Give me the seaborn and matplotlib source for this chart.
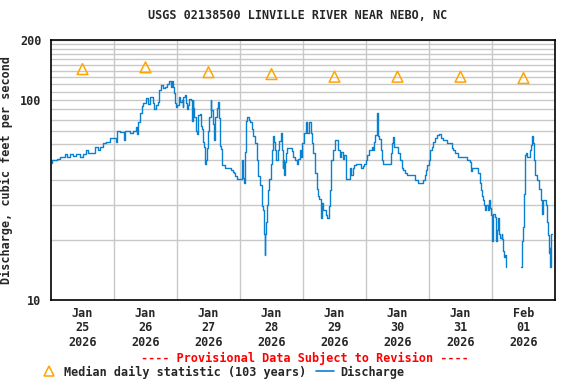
import seaborn as sns
import pandas as pd
import matplotlib.pyplot as plt
from matplotlib.lines import Line2D

# hours since 2026-01-25 00:00, discharge in cfs
hours_a = [0.25, 0.5, 2.3, 3.4, 5.3, 6.1, 7.2, 8.4, 9.5, 11, 12.2, 13.3, 14.1, 16, 16.8, 17.9,
           18.7, 19.8, 21, 22.5, 24.4, 24.6, 25.1, 26.3, 27.8, 28.2, 30.1, 31.2, 32.4, 32.8,
           33.1, 33.9, 34.7, 35, 36.2, 37, 37.7, 38.9, 39.2, 40, 40.8, 41.1, 41.9, 42.7, 43.4,
           44.2, 45, 45.7, 46.1, 46.5, 46.7, 47.2, 47.6, 48, 48.8, 49.1, 49.9, 50.1, 50.3, 51,
           51.4, 51.7, 52.2, 52.6, 53.3, 53.6, 54, 54.2, 54.6, 55.2, 55.6, 56.1, 56.8, 57,
           57.5, 57.8, 58.3, 58.7, 59, 59.3, 59.8, 60.3, 60.8, 61.1, 61.6, 62.1, 62.6, 63.1,
           63.6, 64, 64.4, 64.8, 65.1, 66.3, 68.2, 68.6, 69.2, 69.7, 70.2, 71, 72, 72.6, 73,
           73.5, 73.9, 74.4, 74.8, 75.5, 75.8, 76.5, 77.1, 77.7, 78.4, 79, 79.6, 80.3, 80.9,
           81.1, 81.4, 81.6, 81.9, 82.2, 82.6, 83, 83.7, 84.2, 84.7, 85.1, 85.3, 85.7, 86.2,
           86.6, 87, 87.5, 87.9, 88.3, 88.5, 88.9, 89.1, 89.5, 90, 91, 91.7, 92.3, 93, 93.6,
           94.2, 94.9, 95.2, 95.7, 96.5, 97.1, 97.6, 98.2, 98.7, 99, 99.5, 99.9, 100.6, 101.2,
           101.8, 102.2, 102.7, 103, 103.2, 103.7, 104.4, 104.8, 105.3, 105.8, 106.3, 106.8,
           107.5, 108.3, 109.1, 109.4, 110.1, 110.5, 111.1, 111.7, 112.4, 113.3, 113.9, 114.3,
           114.9, 115.4, 116.1, 117.5, 118, 118.7, 119.2, 120, 120.5, 121.3, 122.3, 122.8, 123,
           123.5, 124.1, 124.3, 124.7, 125.1, 125.6, 126.1, 126.6, 128.9, 129.4, 129.8, 130.2,
           130.7, 131.7, 132.3, 133, 133.6, 134.2, 134.9, 135.5, 138.3, 138.7, 139.9, 141.6,
           141.8, 142.5, 142.9, 143.4, 143.9, 144.4, 145, 145.6, 146.4, 147.2, 147.9, 148.5,
           149.5, 150.7, 152, 152.6, 153.3, 153.9, 155.2, 157.7, 158.4, 159.6, 160, 160.3,
           162.2, 162.6, 163.2, 163.4, 163.8, 164.2, 164.7, 165.1, 165.3, 165.7, 166.4, 166.9,
           167.2, 167.6, 168, 168.3, 168.5, 169.3, 169.5, 169.8, 170.2, 170.6, 170.8, 171.1,
           171.7, 171.9, 172.2, 172.6, 173, 173.2, 173.5]
flow_a = [48.5, 50, 51, 52, 54, 52, 54, 52.5, 54, 52, 54, 56, 54.5, 54.5, 58, 56,
          58, 61, 62, 65, 65, 62, 70, 69, 63, 70, 68.5, 70, 73.5, 68,
          78, 86, 93, 97, 103, 96, 104, 97, 90, 95, 98, 112, 119, 115, 117,
          120, 124, 117, 124, 117, 108, 97, 92, 95, 103.5, 98, 100, 92, 104, 106,
          97, 90, 95, 101, 100, 79, 100, 91, 82, 70, 68, 84, 85, 74,
          72, 62, 58, 48, 50, 57.5, 70, 82, 100, 89, 76, 63, 82, 91,
          98, 81, 59, 57, 47.5, 46, 46, 44.8, 43.5, 43, 41.5, 40.5, 40.5, 50, 41,
          38.6, 55, 79, 82, 80, 78, 72, 66, 61, 50, 41.5, 37.5, 29.6, 28.3,
          21.5, 16.8, 21.5, 24.5, 29.9, 35.5, 40.5, 48, 56, 66, 62, 56, 50, 50,
          56, 62.5, 68.5, 56, 46, 50, 42, 49, 54.5, 57.5, 57.5, 55.5, 52, 50, 48,
          51, 56, 52, 61, 68.5, 78, 68.5, 78, 78, 68.5, 61, 54.5, 43, 36,
          33, 32, 29.9, 25.6, 30.5, 28.3, 28.3, 26.6, 25.6, 29.4, 35.5, 50,
          56, 63, 63, 56, 52, 55, 51, 53, 40.5, 40.5, 46, 42,
          46, 47.5, 48, 48, 46, 47, 48, 50, 53, 56, 58.5, 56, 62,
          67, 75, 86, 66, 64, 56, 50, 48, 48, 54.5, 61, 65.5,
          58.5, 58, 54.5, 50, 46, 44.5, 43, 42, 42, 40, 38.6, 38.6,
          40, 42, 44.5, 47.5, 50, 56, 58.5, 62, 64.5, 67, 67.5, 65,
          63, 61, 61, 57.5, 56, 54.5, 52, 52, 50, 49, 44, 46,
          46, 43, 43, 38.6, 35.5, 33, 31.6, 29.9, 28.3, 29.9, 28.3, 31.6,
          29, 26.6, 19.7, 26, 27, 26, 19.7, 22.4, 25.6, 25.6, 21.5, 20.4,
          21.5, 20.3, 17.5, 16.5, 16.8, 15.9, 14.6]

# after the data gap
hours_b = [179, 179.4, 179.7, 180.2, 180.5, 180.7, 181, 181.5, 182.2, 182.6, 182.9, 183.1,
           183.4, 183.7, 184, 184.4, 185, 185.3, 185.8, 186, 186.6, 186.9, 187.3, 188.2,
           188.6, 189.1, 189.5, 189.7, 190, 190.2, 190.5, 190.8]
flow_b = [14.6, 19.7, 23.3, 34.1, 40.5, 53, 54.5, 52, 52, 56, 59.5, 61,
          66, 61, 50, 42, 42, 40, 37.5, 36, 31.6, 27, 31.6, 31.6,
          29.9, 24.6, 21.2, 17.1, 18.2, 14.6, 21.5, 21.5]

# median daily statistic, plotted at noon of each day
median_hours = [12, 36, 60, 84, 108, 132, 156, 180]
median_flow = [143, 146, 138, 135, 131, 131, 131, 129]

day_labels = ['Jan\n25\n2026', 'Jan\n26\n2026', 'Jan\n27\n2026', 'Jan\n28\n2026',
              'Jan\n29\n2026', 'Jan\n30\n2026', 'Jan\n31\n2026', 'Feb\n01\n2026']

blue = '#0a80d0'
orange = '#ffa500'

sns.set_style('white')
fs = 8.5
plt.rcParams.update({
    'font.family': ['DejaVu Sans Mono'],
    'font.weight': 'bold',
    'font.size': fs,
    'axes.titlesize': fs,
    'axes.titleweight': 'bold',
    'axes.labelsize': fs,
    'axes.labelweight': 'bold',
    'xtick.labelsize': fs,
    'ytick.labelsize': fs,
    'legend.fontsize': fs,
})

fig = plt.figure(figsize=(5.76, 3.84), dpi=100)
ax = fig.add_axes([51/576, 84/384, 504/576, 260/384])

da = pd.DataFrame({'hour': hours_a, 'cfs': flow_a})
db = pd.DataFrame({'hour': hours_b, 'cfs': flow_b})
dm = pd.DataFrame({'hour': median_hours, 'cfs': median_flow})

sns.lineplot(data=da, x='hour', y='cfs', ax=ax, color=blue, lw=1.0,
             drawstyle='steps-post', estimator=None)
sns.lineplot(data=db, x='hour', y='cfs', ax=ax, color=blue, lw=1.0,
             drawstyle='steps-post', estimator=None)
sns.scatterplot(data=dm, x='hour', y='cfs', ax=ax, marker='^', s=60,
                facecolor='none', edgecolor=orange, linewidth=1.1, zorder=3)

ax.set_yscale('log')
ax.set_ylim(10, 200)
ax.set_xlim(0, 192)
ax.set_yticks([10, 100, 200])
ax.set_yticklabels(['10', '100', '200'])
ax.set_yticks(list(range(20, 100, 10)) + list(range(110, 200, 10)), minor=True)
ax.yaxis.set_minor_formatter(plt.NullFormatter())
ax.set_xticks(median_hours)
ax.set_xticklabels(day_labels, linespacing=1.15)
ax.set_xticks(range(24, 192, 24), minor=True)
ax.grid(False)
ax.grid(True, which='minor', color='#c8c8c8', lw=1)
ax.grid(True, which='major', axis='y', color='#c8c8c8', lw=1)
ax.tick_params(which='both', length=0)
ax.tick_params(axis='y', pad=7)
ax.tick_params(axis='x', pad=5)
for s in ax.spines.values():
    s.set_color('black')
    s.set_linewidth(1.2)

ax.set_xlabel('')
ax.set_ylabel('Discharge, cubic feet per second', labelpad=5)
ax.set_title('USGS 02138500 LINVILLE RIVER NEAR NEBO, NC', pad=15, x=0.49)

fig.text(305/576, 1 - 358/384, '---- Provisional Data Subject to Revision ----',
         color='red', ha='center', va='center')

handles = [Line2D([], [], ls='none', marker='^', markersize=7.5, mfc='none', mec=orange, mew=1.1),
           Line2D([], [], color=blue, lw=1.2)]
fig.legend(handles, ['Median daily statistic (103 years)', 'Discharge'], ncol=2,
           loc='center left', bbox_to_anchor=(40/576, 1 - 372/384), frameon=False,
           handlelength=1.5, handletextpad=0.5, columnspacing=0.9, borderpad=0,
           borderaxespad=0)

fig.savefig('out.png', dpi=100)
